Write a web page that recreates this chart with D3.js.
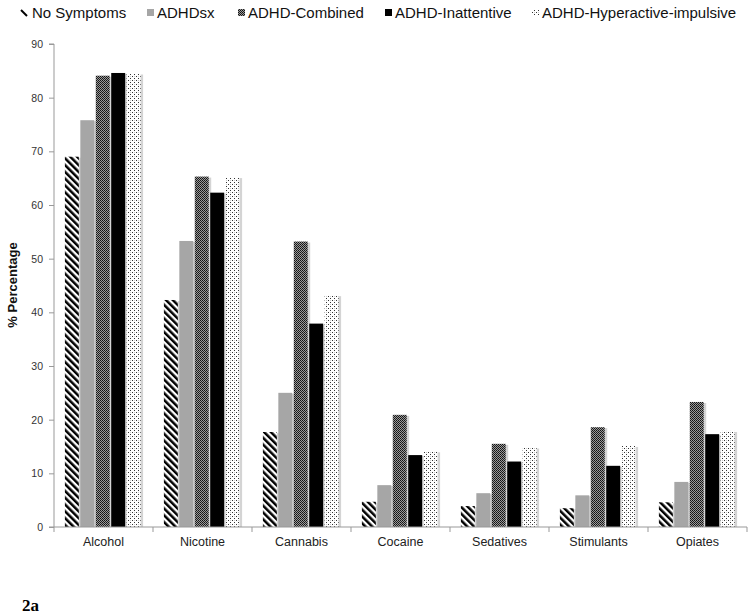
<!DOCTYPE html>
<html><head><meta charset="utf-8">
<script src="https://cdn.jsdelivr.net/npm/d3@7"></script>
<style>body{margin:0;background:#fff}svg{display:block}text{font-family:"Liberation Sans",Arial,sans-serif}</style>
</head><body>
<script>
const categories = ["Alcohol","Nicotine","Cannabis","Cocaine","Sedatives","Stimulants","Opiates"];
const seriesNames = ["No Symptoms","ADHDsx","ADHD-Combined","ADHD-Inattentive","ADHD-Hyperactive-impulsive"];
const noSymptoms = [69.0, 42.3, 17.7, 4.7, 3.9, 3.5, 4.6];
const adhdSx = [75.8, 53.3, 25.0, 7.8, 6.3, 5.9, 8.4];
const adhdCombined = [84.1, 65.3, 53.2, 20.9, 15.5, 18.6, 23.3];
const adhdInattentive = [84.6, 62.3, 37.9, 13.4, 12.2, 11.4, 17.3];
const adhdHyper = [84.5, 65.2, 43.2, 14.1, 14.8, 15.1, 17.9];
const yTicks = [0,10,20,30,40,50,60,70,80,90];
const seriesValues = [noSymptoms, adhdSx, adhdCombined, adhdInattentive, adhdHyper];

const W = 750, H = 614;
const svg = d3.select("body").append("svg").attr("width", W).attr("height", H);
const defs = svg.append("defs");

// stripes
const pS = defs.append("pattern").attr("id","pStripe").attr("patternUnits","userSpaceOnUse")
  .attr("width",4.8).attr("height",4.8).attr("patternTransform","rotate(-45)");
pS.append("rect").attr("width",4.8).attr("height",4.8).attr("fill","#fff");
pS.append("rect").attr("width",2.5).attr("height",4.8).attr("fill","#000");
// checker
const pC = defs.append("pattern").attr("id","pCheck").attr("patternUnits","userSpaceOnUse")
  .attr("width",2).attr("height",2);
pC.append("rect").attr("width",2).attr("height",2).attr("fill","#9a9a9a");
pC.append("rect").attr("width",1).attr("height",1).attr("fill","#111");
pC.append("rect").attr("x",1).attr("y",1).attr("width",1).attr("height",1).attr("fill","#222");
// dots
const pD = defs.append("pattern").attr("id","pDot").attr("patternUnits","userSpaceOnUse")
  .attr("width",4).attr("height",4);
pD.append("rect").attr("width",4).attr("height",4).attr("fill","#fff");
pD.append("rect").attr("x",0).attr("y",0).attr("width",1).attr("height",1).attr("fill","#333");
pD.append("rect").attr("x",2).attr("y",2).attr("width",1).attr("height",1).attr("fill","#333");
pD.append("rect").attr("x",2).attr("y",0).attr("width",1).attr("height",1).attr("fill","#ccc");

const fills = ["url(#pStripe)","#a6a6a6","url(#pCheck)","#000","url(#pDot)"];

const x0 = 54, x1 = 747, y0 = 527, yTop = 44;
const x = d3.scaleBand().domain(categories).range([x0, x1]).paddingInner(0.22).paddingOuter(0.11);
const xs = d3.scaleBand().domain(d3.range(5)).range([0, x.bandwidth()]).padding(0);
const y = d3.scaleLinear().domain([0, 90]).range([y0, yTop]);

const g = svg.append("g");
categories.forEach((c, ci) => {
  seriesValues.forEach((vals, si) => {
    const bx = x(c) + xs(si);
    const bw = xs.bandwidth() - 1;
    g.append("rect").attr("x", bx + 2).attr("y", y(vals[ci]) + 1)
      .attr("width", bw).attr("height", y0 - y(vals[ci]) - 1).attr("fill", "#d4d4d4");
    g.append("rect").attr("x", bx).attr("y", y(vals[ci]))
      .attr("width", bw - 0.5).attr("height", y0 - y(vals[ci])).attr("fill", fills[si]);
  });
});

// y axis
const yAxis = svg.append("g").attr("transform", `translate(${x0},0)`)
  .call(d3.axisLeft(y).tickValues(yTicks).tickSize(5).tickPadding(6));
yAxis.select(".domain").attr("stroke", "#999").attr("d", `M-5,${y0}H0V${yTop}H-5`);
yAxis.selectAll(".tick line").attr("stroke", "#999");
yAxis.selectAll(".tick text").attr("fill", "#333").style("font-size", "10.5px");

// x axis
const xa = svg.append("g");
xa.append("line").attr("x1", x0).attr("x2", x1).attr("y1", y0).attr("y2", y0).attr("stroke", "#999");
const step = (x1 - x0) / categories.length;
d3.range(categories.length + 1).forEach(i => {
  xa.append("line").attr("x1", x0 + i * step).attr("x2", x0 + i * step)
    .attr("y1", y0).attr("y2", y0 + 5).attr("stroke", "#999");
});
xa.selectAll("text.cat").data(categories).enter().append("text").attr("class","cat")
  .attr("x", d => x(d) + x.bandwidth() / 2).attr("y", 546).attr("text-anchor", "middle")
  .attr("fill", "#222").style("font-size", "12.5px").text(d => d);

// y label
svg.append("text").attr("transform", "translate(17,285) rotate(-90)")
  .attr("text-anchor", "middle").style("font-size", "13px").style("font-weight", "bold")
  .attr("fill", "#111").text("% Percentage");

// legend
const legX = [21, 147, 238, 385, 532];
const leg = svg.append("g");
seriesNames.forEach((n, i) => {
  if (i === 0) {
    leg.append("line").attr("x1", legX[i]).attr("y1", 10).attr("x2", legX[i] + 6).attr("y2", 16)
      .attr("stroke", "#000").attr("stroke-width", 2);
  } else {
    leg.append("rect").attr("x", legX[i]).attr("y", 9).attr("width", 7).attr("height", 7).attr("fill", fills[i]);
  }
  leg.append("text").attr("x", legX[i] + (i === 0 ? 11 : 10)).attr("y", 17.5)
    .style("font-size", "15px").attr("fill", "#111").text(n);
});

// caption
svg.append("text").attr("x", 22).attr("y", 611).style("font-family", "'Liberation Serif','Times New Roman',serif")
  .style("font-size", "17px").style("font-weight", "bold").text("2a");
</script>
</body></html>
